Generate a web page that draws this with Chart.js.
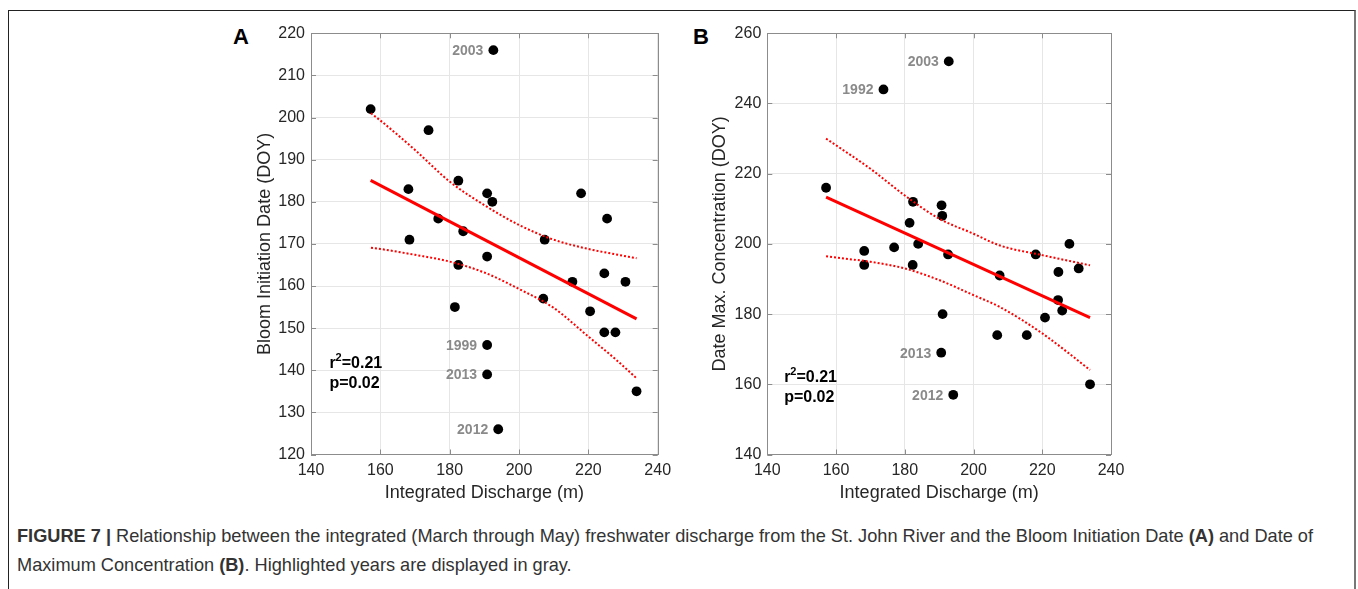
<!DOCTYPE html>
<html>
<head>
<meta charset="utf-8">
<script src="https://cdn.jsdelivr.net/npm/chart.js@4.4.1/dist/chart.umd.min.js"></script>
<style>
body { margin:0; background:#fff; width:1358px; height:589px; overflow:hidden; position:relative;
       font-family:"Liberation Sans", Arial, Helvetica, sans-serif; }
#frame { position:absolute; left:8px; top:10px; width:1345px; height:620px;
         border-top:1.5px solid #222; border-left:1.5px solid #222; border-right:2px solid #777; }
canvas { position:absolute; }
.tag { position:absolute; font-weight:bold; font-size:22px; line-height:22px; color:#000; }
#caption { position:absolute; left:17px; top:522px; font-size:18.2px; line-height:29px; color:#333; white-space:nowrap; }
</style>
</head>
<body>
<div id="frame"></div>
<div class="tag" style="left:233px;top:26px">A</div>
<div class="tag" style="left:693px;top:26px">B</div>
<canvas id="chartA" width="449" height="500" style="left:231px;top:10px"></canvas>
<canvas id="chartB" width="448" height="500" style="left:687px;top:10px"></canvas>
<div id="caption"><b>FIGURE 7 |</b> Relationship between the integrated (March through May) freshwater discharge from the St. John River and the Bloom Initiation Date <b>(A)</b> and Date of<br>Maximum Concentration <b>(B)</b>. Highlighted years are displayed in gray.</div>
<script>
// panel A: discharge vs bloom initiation date
var dischargeA = [192.6, 157.2, 173.9, 182.5, 168.1, 190.8, 192.3, 217.9, 225.4, 176.7, 183.9, 168.4, 207.4, 190.8,
    182.5, 215.4, 207.0, 181.5, 220.5, 224.6, 224.6, 227.8, 230.7, 233.9, 190.8, 190.8, 194.0];
var bloomDate = [216, 202, 197, 185, 183, 182, 180, 182, 176, 176, 173, 171, 171, 167,
    165, 161, 157, 155, 154, 163, 149, 149, 161, 135, 146, 139, 126];
var fitXA = [157.2, 233.9];
var fitYA = [185.1, 152.2];
var bandXA = [157.3, 160, 170, 180, 190, 200, 210, 220, 228, 233.9];
var upperA = [201.0, 199.3, 192.3, 184.8, 179.2, 174.5, 171.0, 168.8, 167.5, 166.6];
var lowerA = [169.1, 168.8, 167.4, 165.8, 163.2, 159.3, 154.8, 148.0, 142.5, 138.1];
var yearsA = [["2003", 0], ["1999", 24], ["2013", 25], ["2012", 26]];

// panel B: discharge vs date of max concentration
var dischargeB = [192.8, 173.8, 157.1, 182.4, 190.7, 190.9, 181.4, 183.9, 168.2, 176.9, 192.6, 218.1, 227.9, 168.2,
    182.3, 207.6, 224.7, 230.6, 224.6, 225.8, 220.8, 191.0, 206.9, 215.5, 190.6, 194.1, 233.9];
var maxDate = [252, 244, 216, 212, 211, 208, 206, 200, 198, 199, 197, 197, 200, 194,
    194, 191, 192, 193, 184, 181, 179, 180, 174, 174, 169, 157, 160];
var fitXB = [157.1, 233.9];
var fitYB = [213.3, 179.0];
var bandXB = [157.1, 160, 170, 180, 190, 200, 207.5, 220, 233.9];
var upperB = [230.0, 228.1, 221.4, 213.8, 207.2, 202.9, 199.6, 196.8, 193.9];
var lowerB = [196.5, 196.1, 194.9, 193.0, 189.7, 185.4, 182.1, 174.5, 164.1];
var yearsB = [["2003", 0], ["1992", 1], ["2013", 24], ["2012", 25]];

var FONT = '"Liberation Sans", Arial, Helvetica, sans-serif';
Chart.defaults.font.family = FONT;

function pairs(xs, ys) {
    return xs.map(function(x, i) { return {x: x, y: ys[i]}; });
}

var extras = {
    id: 'extras',
    afterDraw: function(chart, args, opts) {
        var ctx = chart.ctx, a = chart.chartArea;
        var sx = chart.scales.x, sy = chart.scales.y;
        ctx.save();
        // box + inward ticks, matlab style
        ctx.strokeStyle = '#8c8c8c';
        ctx.lineWidth = 1;
        ctx.strokeRect(Math.round(a.left) + 0.5, Math.round(a.top) + 0.5,
            Math.round(a.right - a.left), Math.round(a.bottom - a.top));
        ctx.beginPath();
        sx.ticks.forEach(function(t) {
            var p = Math.round(sx.getPixelForValue(t.value)) + 0.5;
            ctx.moveTo(p, a.bottom); ctx.lineTo(p, a.bottom - 5);
            ctx.moveTo(p, a.top); ctx.lineTo(p, a.top + 5);
        });
        sy.ticks.forEach(function(t) {
            var p = Math.round(sy.getPixelForValue(t.value)) + 0.5;
            ctx.moveTo(a.left, p); ctx.lineTo(a.left + 5, p);
            ctx.moveTo(a.right, p); ctx.lineTo(a.right - 5, p);
        });
        ctx.stroke();

        // highlighted years
        var meta = chart.getDatasetMeta(3);
        ctx.fillStyle = '#8a8a8a';
        ctx.font = 'bold 14px ' + FONT;
        ctx.textAlign = 'right';
        ctx.textBaseline = 'middle';
        opts.years.forEach(function(yr) {
            var pt = meta.data[yr[1]];
            ctx.fillText(yr[0], pt.x - 10, pt.y + 1);
        });

        // stats text
        var x0 = sx.getPixelForValue(opts.stats[0]);
        var y1 = sy.getPixelForValue(opts.stats[1]);
        var y2 = sy.getPixelForValue(opts.stats[2]);
        ctx.fillStyle = '#000';
        ctx.textAlign = 'left';
        ctx.font = 'bold 16px ' + FONT;
        ctx.fillText('r', x0, y1);
        var w = ctx.measureText('r').width;
        ctx.font = 'bold 11px ' + FONT;
        ctx.fillText('2', x0 + w, y1 - 6);
        var w2 = ctx.measureText('2').width;
        ctx.font = 'bold 16px ' + FONT;
        ctx.fillText('=0.21', x0 + w + w2, y1);
        ctx.fillText('p=0.02', x0, y2);
        ctx.restore();
    }
};

function makePanel(id, p) {
    return new Chart(document.getElementById(id), {
        type: 'scatter',
        data: {
            datasets: [
                {data: pairs(p.fitX, p.fitY), showLine: true, borderColor: '#ff0000', borderWidth: 3,
                    pointRadius: 0},
                {data: pairs(p.bandX, p.upper), showLine: true, borderColor: '#ff0000', borderWidth: 2,
                    borderDash: [2, 2], pointRadius: 0, cubicInterpolationMode: 'monotone'},
                {data: pairs(p.bandX, p.lower), showLine: true, borderColor: '#ff0000', borderWidth: 2,
                    borderDash: [2, 2], pointRadius: 0, cubicInterpolationMode: 'monotone'},
                {data: pairs(p.xs, p.ys), pointRadius: 4.9, pointBackgroundColor: '#000',
                    pointBorderWidth: 0, borderColor: '#000'}
            ]
        },
        options: {
            responsive: false,
            animation: false,
            events: [],
            layout: {padding: {left: 0, top: 23.3, right: p.padRight, bottom: 5.5}},
            plugins: {
                legend: {display: false},
                tooltip: {enabled: false},
                extras: {years: p.years, stats: p.stats}
            },
            scales: {
                x: {
                    min: 140, max: 240,
                    ticks: {stepSize: 20, padding: 6, color: '#262626', font: {size: 16}},
                    grid: {color: '#e6e6e6', drawTicks: false},
                    border: {display: false},
                    title: {display: true, text: 'Integrated Discharge (m)', color: '#262626',
                        font: {size: 18}, padding: {top: 0, bottom: 0.7}},
                    afterFit: function(s) { s.height = 50; }
                },
                y: {
                    min: p.yMin, max: p.yMax,
                    ticks: {stepSize: p.yStep, padding: 6, color: '#262626', font: {size: 16}},
                    grid: {color: '#e6e6e6', drawTicks: false},
                    border: {display: false},
                    title: {display: true, text: p.yTitle, color: '#262626',
                        font: {size: 18}, padding: {top: p.titlePad, bottom: 0}},
                    afterFit: function(s) { s.width = p.yWidth; }
                }
            }
        },
        plugins: [extras]
    });
}

makePanel('chartA', {
    xs: dischargeA, ys: bloomDate, fitX: fitXA, fitY: fitYA,
    bandX: bandXA, upper: upperA, lower: lowerA, years: yearsA,
    stats: [145.3, 141.5, 136.8],
    yMin: 120, yMax: 220, yStep: 10, yTitle: 'Bloom Initiation Date (DOY)',
    yWidth: 80, titlePad: 23.2, padRight: 22.3
});
makePanel('chartB', {
    xs: dischargeB, ys: maxDate, fitX: fitXB, fitY: fitYB,
    bandX: bandXB, upper: upperB, lower: lowerB, years: yearsB,
    stats: [144.9, 161.9, 156.3],
    yMin: 140, yMax: 260, yStep: 20, yTitle: 'Date Max. Concentration (DOY)',
    yWidth: 80.3, titlePad: 22.2, padRight: 24
});
</script>
</body>
</html>
